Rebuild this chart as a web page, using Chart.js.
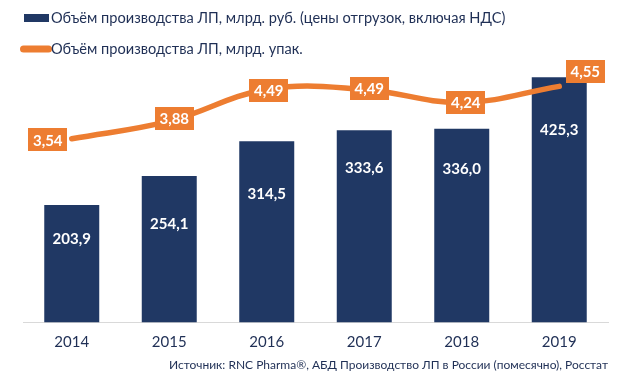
<!DOCTYPE html>
<html>
<head>
<meta charset="utf-8">
<script src="https://cdn.jsdelivr.net/npm/chart.js@4"></script>
<style>
  html, body { margin: 0; padding: 0; background: #fff; }
  #wrap { width: 633px; height: 389px; }
</style>
</head>
<body>
<div id="wrap"><canvas id="chart"></canvas></div>
<script>
// dati
const years = ['2014', '2015', '2016', '2017', '2018', '2019'];
const volumeRub = [203.9, 254.1, 314.5, 333.6, 336.0, 425.3];
const volumePack = [3.54, 3.88, 4.49, 4.49, 4.24, 4.55];
const seriesNames = [
    'Объём производства ЛП, млрд. руб. (цены отгрузок, включая НДС)',
    'Объём производства ЛП, млрд. упак.'
];
const sourceText = 'Источник: RNC Pharma®, АБД Производство ЛП в России (помесячно), Росстат';

// posizione etichette (spostamenti in px)
const barLabelShift = [34, 48, 53, 38, 40, 53];
const lineLabelShift = [[-24, 1], [5, -3], [2, 1], [5, -1], [4, 0], [26, -15]];

const NAVY = '#203864';
const ORANGE = '#ED7D31';
const TEXT = '#1F2F55';
const FONT = 'Lato, "Open Sans", sans-serif';

function fmt(v, d) {
    return v.toFixed(d).replace('.', ',');
}

const labelsPlugin = {
    id: 'labelsPlugin',
    afterDatasetsDraw(chart) {
        const ctx = chart.ctx;
        ctx.save();
        ctx.textAlign = 'center';
        ctx.textBaseline = 'middle';
        ctx.font = 'bold 15px ' + FONT;

        // etichette barre
        const barMeta = chart.getDatasetMeta(0);
        barMeta.data.forEach((el, i) => {
            ctx.fillStyle = '#ffffff';
            ctx.fillText(fmt(volumeRub[i], 1), el.x, el.y + barLabelShift[i]);
        });

        // etichette linea
        const lineMeta = chart.getDatasetMeta(1);
        lineMeta.data.forEach((el, i) => {
            const txt = fmt(volumePack[i], 2);
            const w = ctx.measureText(txt).width + 9;
            const h = 23;
            const cx = el.x + lineLabelShift[i][0];
            const cy = el.y + lineLabelShift[i][1];
            ctx.fillStyle = ORANGE;
            ctx.fillRect(Math.round(cx - w / 2), Math.round(cy - h / 2), Math.round(w), h);
            ctx.fillStyle = '#ffffff';
            ctx.fillText(txt, cx, cy + 1);
        });
        ctx.restore();
    },
    afterDraw(chart) {
        // legenda
        const ctx = chart.ctx;
        ctx.save();
        ctx.fillStyle = NAVY;
        ctx.fillRect(24, 14, 25, 8);
        ctx.strokeStyle = ORANGE;
        ctx.lineWidth = 7;
        ctx.lineCap = 'round';
        ctx.beginPath();
        ctx.moveTo(23.5, 49);
        ctx.lineTo(48.5, 49);
        ctx.stroke();
        ctx.fillStyle = TEXT;
        ctx.font = '14.6px ' + FONT;
        ctx.textAlign = 'left';
        ctx.textBaseline = 'middle';
        ctx.fillText(seriesNames[0], 51, 18);
        ctx.fillText(seriesNames[1], 51, 49);
        ctx.restore();
    }
};

const ctx = document.getElementById('chart').getContext('2d');
window.productionChart = new Chart(ctx, {
    type: 'bar',
    data: {
        labels: years,
        datasets: [
            {
                type: 'bar',
                label: seriesNames[0],
                data: volumeRub,
                backgroundColor: NAVY,
                barPercentage: 0.564,
                categoryPercentage: 1,
                yAxisID: 'y',
                order: 2
            },
            {
                type: 'line',
                label: seriesNames[1],
                data: volumePack,
                borderColor: ORANGE,
                borderWidth: 5.5,
                borderCapStyle: 'round',
                tension: 0.4,
                pointRadius: 0,
                fill: false,
                clip: false,
                yAxisID: 'y2',
                order: 1
            }
        ]
    },
    options: {
        responsive: true,
        maintainAspectRatio: false,
        animation: false,
        layout: { padding: { top: 63, left: 23, right: 25, bottom: 0 } },
        plugins: {
            legend: { display: false },
            tooltip: { enabled: false },
            title: {
                display: true,
                position: 'bottom',
                align: 'end',
                text: sourceText,
                color: TEXT,
                font: { family: FONT, size: 12, weight: 'normal' },
                padding: { top: 6, bottom: 17 }
            }
        },
        scales: {
            x: {
                grid: {
                    display: true,
                    drawOnChartArea: false,
                    drawTicks: true,
                    tickLength: 11,
                    tickColor: 'rgba(0,0,0,0)'
                },
                border: { display: true, color: '#d9d9d9', width: 1 },
                ticks: { color: TEXT, font: { family: FONT, size: 15 }, padding: 0 }
            },
            y: { display: false, min: 0, max: 450 },
            y2: { display: false, min: 0, max: 5, position: 'right' }
        }
    },
    plugins: [labelsPlugin]
});
</script>
</body>
</html>
